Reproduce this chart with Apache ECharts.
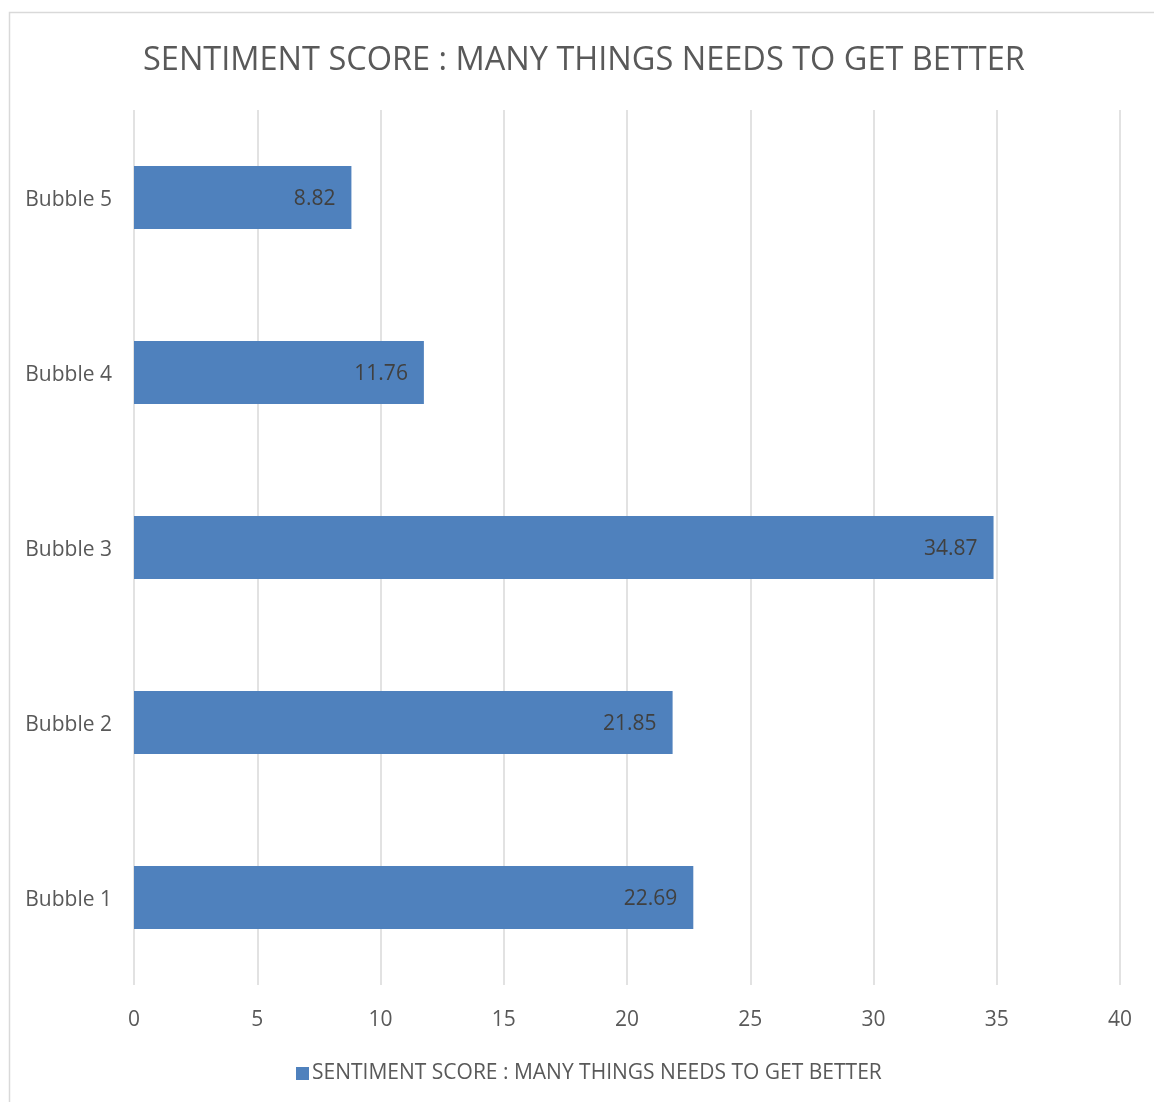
<!DOCTYPE html>
<html><head><meta charset="utf-8">
<script src="https://cdn.jsdelivr.net/npm/echarts@6/dist/echarts.min.js"></script>
<style>html,body{margin:0;padding:0;background:#fff}#c{width:1154px;height:1102px}</style>
</head><body><div id="c"></div>
<script>
const categories = ['Bubble 1','Bubble 2','Bubble 3','Bubble 4','Bubble 5'];
const values = [22.69, 21.85, 34.87, 11.76, 8.82];
const seriesName = 'SENTIMENT SCORE : MANY THINGS NEEDS TO GET BETTER';
const titleText = 'SENTIMENT SCORE : MANY THINGS NEEDS TO GET BETTER';
const FONT = '"Open Sans", "Noto Sans", sans-serif';
const chart = echarts.init(document.getElementById('c'));
chart.setOption({
  animation: false,
  backgroundColor: '#fff',
  graphic: [{type:'rect', shape:{x:9.5,y:12.5,width:1160,height:1100}, style:{fill:'none',stroke:'#d9d9d9',lineWidth:1.5}, silent:true}],
  title: {text: titleText, left: 143, top: 44, padding: 0, textStyle:{fontFamily:FONT, fontSize:32.5, fontWeight:'normal', color:'#595959'}},
  legend: {bottom: 18, left: 296, padding: 0, itemWidth: 13, itemHeight: 13, itemGap: 5, icon:'rect',
    textStyle:{fontFamily:FONT, fontSize:21, color:'#595959', padding:[0,0,0,-2]}},
  grid: {left: 134, right: 34, top: 110, bottom: 117, containLabel: false},
  xAxis: {type:'value', min:0, max:40, interval:5,
    axisLine:{show:false}, axisTick:{show:false},
    splitLine:{lineStyle:{color:'#d9d9d9', width:1.5}},
    axisLabel:{fontFamily:FONT, fontSize:21, color:'#595959', margin:25}},
  yAxis: {type:'category', data: categories,
    axisLine:{show:false}, axisTick:{show:false},
    axisLabel:{margin:22, formatter: v => '{a|' + v + '}',
      rich:{a:{fontFamily:FONT, fontSize:21, color:'#595959', padding:[6,0,0,0]}}}},
  series: [{type:'bar', name: seriesName, data: values, barWidth: 63,
    itemStyle:{color:'#4f81bd'},
    label:{show:true, position:'insideRight', distance:16, formatter: p => '{a|' + p.value.toFixed(2) + '}',
      rich:{a:{fontFamily:FONT, fontSize:21, color:'#404040', padding:[4,0,0,0]}}}}]
});
</script></body></html>
